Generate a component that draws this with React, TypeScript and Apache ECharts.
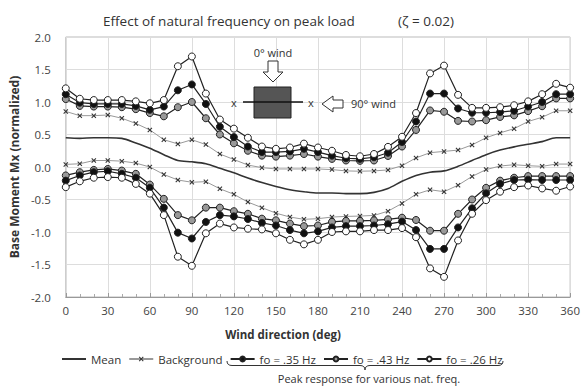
import React, { useEffect, useRef } from 'react';
import * as echarts from 'echarts';

const FONT = '"Open Sans", "DejaVu Sans", sans-serif';

const degrees = [0, 10, 20, 30, 40, 50, 60, 70, 80, 90, 100, 110, 120, 130, 140, 150, 160, 170, 180, 190, 200, 210, 220, 230, 240, 250, 260, 270, 280, 290, 300, 310, 320, 330, 340, 350, 360];
const xTicks = [0, 30, 60, 90, 120, 150, 180, 210, 240, 270, 300, 330, 360];
const yTicks = [-2.0, -1.5, -1.0, -0.5, 0.0, 0.5, 1.0, 1.5, 2.0];

const meanVals = [0.45, 0.44, 0.45, 0.45, 0.44, 0.37, 0.29, 0.19, 0.10, 0.08, 0.05, -0.02, -0.09, -0.17, -0.24, -0.30, -0.35, -0.38, -0.40, -0.40, -0.41, -0.41, -0.39, -0.33, -0.22, -0.13, -0.08, -0.06, 0.01, 0.10, 0.19, 0.26, 0.31, 0.35, 0.39, 0.45, 0.45];

const bgUpper = [0.855, 0.79, 0.79, 0.80, 0.75, 0.67, 0.57, 0.42, 0.355, 0.42, 0.345, 0.20, 0.115, 0.03, -0.01, -0.03, -0.03, -0.03, -0.03, -0.04, -0.06, -0.065, -0.06, -0.045, 0.02, 0.14, 0.22, 0.24, 0.26, 0.34, 0.45, 0.525, 0.59, 0.70, 0.765, 0.865, 0.865];
const bgLower = [0.04, 0.05, 0.10, 0.10, 0.09, 0.06, 0.0, -0.115, -0.20, -0.235, -0.225, -0.335, -0.42, -0.54, -0.625, -0.71, -0.77, -0.805, -0.795, -0.77, -0.76, -0.755, -0.745, -0.68, -0.56, -0.42, -0.35, -0.38, -0.28, -0.145, -0.04, 0.015, 0.035, 0.02, 0.01, 0.045, 0.045];

const f35Upper = [1.12, 0.99, 0.97, 0.97, 0.97, 0.94, 0.88, 0.93, 1.18, 1.27, 0.97, 0.62, 0.46, 0.315, 0.23, 0.23, 0.24, 0.28, 0.23, 0.175, 0.135, 0.125, 0.15, 0.22, 0.385, 0.70, 1.13, 1.13, 0.90, 0.835, 0.835, 0.845, 0.865, 0.93, 1.0, 1.12, 1.12];
const f35Lower = [-0.21, -0.13, -0.08, -0.065, -0.105, -0.165, -0.32, -0.625, -1.01, -1.10, -0.845, -0.74, -0.76, -0.80, -0.86, -0.90, -0.97, -1.02, -0.99, -0.93, -0.91, -0.91, -0.90, -0.88, -0.84, -0.97, -1.26, -1.26, -0.93, -0.635, -0.405, -0.26, -0.20, -0.195, -0.20, -0.20, -0.20];

const f43Upper = [1.045, 0.94, 0.93, 0.93, 0.92, 0.89, 0.83, 0.78, 0.92, 1.00, 0.75, 0.50, 0.365, 0.25, 0.175, 0.16, 0.175, 0.20, 0.16, 0.125, 0.10, 0.095, 0.10, 0.17, 0.315, 0.57, 0.87, 0.85, 0.71, 0.70, 0.72, 0.77, 0.795, 0.86, 0.935, 1.055, 1.055];
const f43Lower = [-0.13, -0.08, -0.045, -0.03, -0.055, -0.105, -0.27, -0.49, -0.74, -0.82, -0.625, -0.625, -0.68, -0.72, -0.795, -0.82, -0.87, -0.91, -0.90, -0.845, -0.83, -0.83, -0.82, -0.805, -0.78, -0.815, -0.98, -0.98, -0.72, -0.50, -0.32, -0.21, -0.165, -0.14, -0.14, -0.14, -0.14];

const f26Upper = [1.21, 1.05, 1.03, 1.03, 1.03, 1.01, 0.98, 1.03, 1.55, 1.70, 1.13, 0.73, 0.59, 0.45, 0.315, 0.28, 0.30, 0.36, 0.30, 0.25, 0.185, 0.165, 0.20, 0.31, 0.465, 0.83, 1.44, 1.56, 1.11, 0.91, 0.91, 0.92, 0.95, 1.01, 1.12, 1.28, 1.22];
const f26Lower = [-0.31, -0.22, -0.165, -0.155, -0.165, -0.26, -0.41, -0.74, -1.38, -1.52, -1.02, -0.87, -0.93, -0.95, -0.96, -1.02, -1.12, -1.19, -1.12, -1.0, -0.99, -0.99, -0.97, -0.97, -0.94, -1.08, -1.56, -1.69, -1.13, -0.72, -0.51, -0.38, -0.31, -0.285, -0.33, -0.365, -0.30];

const legendNames = ['Mean', 'Background', 'fo = .35 Hz', 'fo = .43 Hz', 'fo = .26 Hz'];

const X_SYMBOL = 'path://M0,1.5L1.5,0L5,3.5L8.5,0L10,1.5L6.5,5L10,8.5L8.5,10L5,6.5L1.5,10L0,8.5L3.5,5Z';
const BRACE = 'M227,361 Q227,365.5 232,365.5 L360,365.5 Q365,365.5 365,370 Q365,365.5 370,365.5 L498,365.5 Q503,365.5 503,361';

function pairs(vals: number[]) {
  return degrees.map((d, i) => [d, vals[i]]);
}

function peakSeries(name: string, vals: number[], fill: string, z: number) {
  return {
    type: 'line',
    name,
    data: pairs(vals),
    symbol: 'circle',
    symbolSize: 7,
    z,
    itemStyle: { color: fill, borderColor: '#222', borderWidth: 1 },
    lineStyle: { color: '#222', width: 1.2 },
    emphasis: { disabled: true },
  };
}

function bgSeries(vals: number[]) {
  return {
    type: 'line',
    name: 'Background',
    data: pairs(vals),
    symbol: X_SYMBOL,
    symbolSize: 5,
    z: 3,
    itemStyle: { color: '#333' },
    lineStyle: { color: '#999', width: 1 },
    emphasis: { disabled: true },
  };
}

export default function App() {
  const ref = useRef<HTMLDivElement>(null);
  useEffect(() => {
    const el = ref.current!;
    echarts.graphic.registerShape('brace', echarts.graphic.extendPath(BRACE, {}));
    const chart = echarts.init(el, null, { renderer: 'svg' });
    const txt = (text: string, x: number, y: number, align: string, size: number, weight = 'normal') => ({
      type: 'text',
      z: 10,
      style: { text, x, y, align, verticalAlign: 'middle', fontSize: size, fontWeight: weight, fontFamily: FONT, fill: '#333' },
    });
    chart.setOption({
      animation: false,
      backgroundColor: '#fff',
      title: [
        { text: 'Effect of natural frequency on peak load', left: 98, top: 9, textStyle: { fontSize: 13.5, fontWeight: 'normal', color: '#333', fontFamily: FONT } },
        { text: '(ζ = 0.02)', left: 393, top: 9, textStyle: { fontSize: 13.5, fontWeight: 'normal', color: '#333', fontFamily: FONT } },
      ],
      legend: {
        data: legendNames.map((n, i) => (i === 0 ? { name: n, itemStyle: { opacity: 0 } } : { name: n })),
        left: 56,
        top: 348,
        itemWidth: 24,
        itemHeight: 6,
        itemGap: 7,
        textStyle: { fontSize: 11.5, color: '#333', fontFamily: FONT },
      },
      grid: { left: 55.5, right: 10, top: 37, bottom: 89, show: true, borderColor: '#bbb', borderWidth: 1 },
      xAxis: {
        type: 'value',
        min: xTicks[0],
        max: xTicks[xTicks.length - 1],
        interval: 30,
        axisLine: { show: true, onZero: false, lineStyle: { color: '#999' } },
        axisTick: { show: true, inside: true, length: 4, lineStyle: { color: '#999' } },
        minorTick: { show: true, splitNumber: 3, length: 3, lineStyle: { color: '#aaa' } },
        splitLine: { show: true, lineStyle: { color: '#ddd' } },
        axisLabel: { color: '#444', fontSize: 11.5, margin: 7, fontFamily: FONT },
      },
      yAxis: {
        type: 'value',
        min: yTicks[0],
        max: yTicks[yTicks.length - 1],
        interval: 0.5,
        axisLine: { show: false },
        axisTick: { show: false },
        splitLine: { show: true, lineStyle: { color: '#ddd' } },
        axisLabel: { color: '#444', fontSize: 11.5, margin: 15, fontFamily: FONT, formatter: (v: number) => v.toFixed(1) },
        name: 'Base Moment Mx (normalized)',
        nameLocation: 'middle',
        nameGap: 37,
        nameTextStyle: { fontSize: 12, fontWeight: 'bold', color: '#333', fontFamily: FONT },
      },
      series: [
        {
          type: 'line',
          name: 'Mean',
          data: pairs(meanVals),
          symbol: 'none',
          smooth: 0.3,
          z: 2,
          itemStyle: { color: '#333' },
          lineStyle: { color: '#333', width: 1.6 },
          emphasis: { disabled: true },
        },
        bgSeries(bgUpper),
        bgSeries(bgLower),
        peakSeries('fo = .43 Hz', f43Upper, '#999', 4),
        peakSeries('fo = .43 Hz', f43Lower, '#999', 4),
        peakSeries('fo = .35 Hz', f35Upper, '#111', 5),
        peakSeries('fo = .35 Hz', f35Lower, '#111', 5),
        peakSeries('fo = .26 Hz', f26Upper, '#fff', 6),
        peakSeries('fo = .26 Hz', f26Lower, '#fff', 6),
      ],
      graphic: [
        txt('Wind direction (deg)', 283, 334, 'center', 11.5, 'bold'),
        { type: 'brace', x: 0, y: 0, z: 10, style: { fill: 'none', stroke: '#333', lineWidth: 1 } },
        txt('Peak response for various nat. freq.', 369, 378, 'center', 11),
        txt('0° wind', 273, 52, 'center', 11),
        {
          type: 'polygon', z: 10,
          shape: { points: [[268, 61], [278, 61], [278, 72], [283, 72], [273, 82], [263, 72], [268, 72]] },
          style: { fill: '#fff', stroke: '#333', lineWidth: 1 },
        },
        { type: 'rect', z: 10, shape: { x: 254, y: 87, width: 37, height: 31 }, style: { fill: '#555', stroke: '#222', lineWidth: 1 } },
        { type: 'line', z: 11, shape: { x1: 243, y1: 102, x2: 303, y2: 102 }, style: { stroke: '#111', lineWidth: 1.5 } },
        txt('x', 234, 102, 'center', 11),
        txt('x', 311, 102, 'center', 11),
        {
          type: 'polygon', z: 10,
          shape: { points: [[322, 104], [333, 96], [333, 100], [343, 100], [343, 108], [333, 108], [333, 112]] },
          style: { fill: '#fff', stroke: '#333', lineWidth: 1 },
        },
        txt('90° wind', 351, 103, 'left', 11),
      ],
    });
    return () => chart.dispose();
  }, []);
  return <div ref={ref} style={{ position: 'fixed', left: 0, top: 0, width: 583, height: 386 }} />;
}
